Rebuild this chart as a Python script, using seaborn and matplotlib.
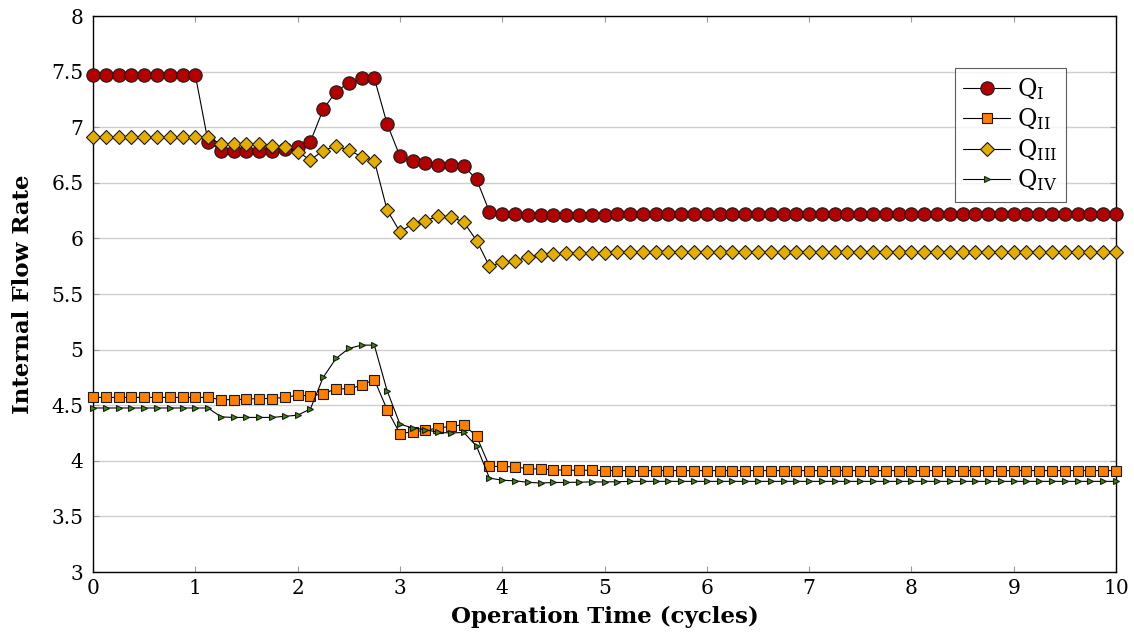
import numpy as np
import pandas as pd
import matplotlib
matplotlib.use("Agg")
import matplotlib.pyplot as plt
import seaborn as sns

# Sampling times: 8 samples per cycle over 10 cycles
time_cycles = np.arange(81) / 8.0

q_1 = [7.47, 7.47, 7.47, 7.47, 7.47, 7.47, 7.47, 7.47, 7.47, 6.87,
       6.79, 6.79, 6.79, 6.79, 6.79, 6.80, 6.82, 6.87, 7.16, 7.32,
       7.40, 7.44, 7.44, 7.03, 6.74, 6.70, 6.68, 6.66, 6.66, 6.65,
       6.53, 6.24, 6.22, 6.22, 6.21, 6.21, 6.21, 6.21, 6.21, 6.21,
       6.21, 6.22, 6.22, 6.22, 6.22, 6.22, 6.22, 6.22, 6.22, 6.22,
       6.22, 6.22, 6.22, 6.22, 6.22, 6.22, 6.22, 6.22, 6.22, 6.22,
       6.22, 6.22, 6.22, 6.22, 6.22, 6.22, 6.22, 6.22, 6.22, 6.22,
       6.22, 6.22, 6.22, 6.22, 6.22, 6.22, 6.22, 6.22, 6.22, 6.22,
       6.22]

q_2 = [4.57, 4.57, 4.57, 4.57, 4.57, 4.57, 4.57, 4.57, 4.57, 4.57,
       4.55, 4.55, 4.555, 4.56, 4.56, 4.57, 4.59, 4.585, 4.60, 4.65,
       4.645, 4.68, 4.73, 4.46, 4.245, 4.26, 4.275, 4.295, 4.31, 4.325,
       4.22, 3.95, 3.95, 3.944, 3.93, 3.925, 3.92, 3.915, 3.915, 3.915,
       3.912, 3.912, 3.912, 3.912, 3.912, 3.912, 3.912, 3.912, 3.912, 3.912,
       3.912, 3.912, 3.912, 3.912, 3.912, 3.912, 3.912, 3.912, 3.912, 3.912,
       3.912, 3.912, 3.912, 3.912, 3.912, 3.912, 3.912, 3.912, 3.912, 3.912,
       3.912, 3.912, 3.912, 3.912, 3.912, 3.912, 3.912, 3.912, 3.912, 3.912,
       3.912]

q_3 = [6.91, 6.91, 6.91, 6.91, 6.91, 6.91, 6.91, 6.91, 6.91, 6.91,
       6.85, 6.85, 6.845, 6.845, 6.83, 6.82, 6.78, 6.705, 6.79, 6.83,
       6.795, 6.735, 6.70, 6.255, 6.06, 6.13, 6.16, 6.20, 6.195, 6.145,
       5.98, 5.75, 5.785, 5.795, 5.835, 5.85, 5.86, 5.865, 5.87, 5.87,
       5.87, 5.875, 5.875, 5.875, 5.88, 5.88, 5.88, 5.88, 5.88, 5.88,
       5.88, 5.88, 5.88, 5.88, 5.88, 5.88, 5.88, 5.88, 5.88, 5.88,
       5.88, 5.88, 5.88, 5.88, 5.88, 5.88, 5.88, 5.88, 5.88, 5.88,
       5.88, 5.88, 5.88, 5.88, 5.88, 5.88, 5.88, 5.88, 5.88, 5.88,
       5.88]

q_4 = [4.475, 4.475, 4.475, 4.475, 4.475, 4.475, 4.475, 4.475, 4.475, 4.475,
       4.395, 4.39, 4.39, 4.39, 4.39, 4.40, 4.41, 4.466, 4.75, 4.92,
       5.01, 5.04, 5.04, 4.63, 4.33, 4.295, 4.28, 4.256, 4.25, 4.255,
       4.13, 3.845, 3.825, 3.82, 3.807, 3.80, 3.805, 3.805, 3.808, 3.81,
       3.81, 3.812, 3.815, 3.815, 3.815, 3.815, 3.815, 3.815, 3.815, 3.815,
       3.815, 3.815, 3.815, 3.815, 3.815, 3.815, 3.815, 3.815, 3.815, 3.815,
       3.815, 3.815, 3.815, 3.815, 3.815, 3.815, 3.815, 3.815, 3.815, 3.815,
       3.815, 3.815, 3.815, 3.815, 3.815, 3.815, 3.815, 3.815, 3.815, 3.815,
       3.815]

series_labels = [r"$\mathrm{Q}_{\mathrm{I}}$", r"$\mathrm{Q}_{\mathrm{II}}$",
                 r"$\mathrm{Q}_{\mathrm{III}}$", r"$\mathrm{Q}_{\mathrm{IV}}$"]
x_ticks = [0, 1, 2, 3, 4, 5, 6, 7, 8, 9, 10]
y_ticks = [3, 3.5, 4, 4.5, 5, 5.5, 6, 6.5, 7, 7.5, 8]
y_tick_labels = ["3", "3.5", "4", "4.5", "5", "5.5", "6", "6.5", "7", "7.5", "8"]

sns.set_theme(style="white")
plt.rcParams["font.family"] = ["DejaVu Serif"]
plt.rcParams["mathtext.fontset"] = "dejavuserif"
plt.rcParams["text.color"] = "black"
plt.rcParams["axes.labelcolor"] = "black"
plt.rcParams["xtick.color"] = "black"
plt.rcParams["ytick.color"] = "black"

df = pd.DataFrame({"t": time_cycles, "q1": q_1, "q2": q_2, "q3": q_3, "q4": q_4})

fig = plt.figure(figsize=(11.34, 6.44), dpi=100)
ax = fig.add_axes([93 / 1134, 72 / 644, 1023 / 1134, 556 / 644])

styles = [
    ("q1", "o", 9.6, "#b30000"),
    ("q2", "s", 6.6, "#ff7f00"),
    ("q3", "D", 7.0, "#e5ad00"),
    ("q4", ">", 4.6, "#3a8c00"),
]
for (col, mk, ms, fc), lab in zip(styles, series_labels):
    sns.lineplot(data=df, x="t", y=col, ax=ax, color="black", linewidth=0.8,
                 marker=mk, markersize=ms, markerfacecolor=fc,
                 markeredgecolor="#1a1a1a", markeredgewidth=0.8,
                 label=lab, zorder=3, clip_on=False)

ax.set_xlim(0, 10)
ax.set_ylim(3, 8)
ax.set_xticks(x_ticks)
ax.set_xticklabels([str(v) for v in x_ticks])
ax.set_yticks(y_ticks)
ax.set_yticklabels(y_tick_labels)
ax.yaxis.grid(True, color="#cfcfcf", linewidth=1.0)
ax.xaxis.grid(False)
ax.set_axisbelow(True)

for sp in ax.spines.values():
    sp.set_color("black")
    sp.set_linewidth(1.0)
    sp.set_visible(True)

ax.tick_params(axis="both", which="major", direction="in", length=4.5,
               width=0.8, color="#9a9a9a", labelsize=14.5, labelcolor="black",
               top=True, right=True, bottom=True, left=True)
ax.tick_params(axis="y", pad=7)
ax.tick_params(axis="x", pad=5)

ax.set_xlabel("Operation Time (cycles)", fontsize=16.5, fontweight="bold", labelpad=6)
ax.set_ylabel("Internal Flow Rate", fontsize=16.5, fontweight="bold", labelpad=12)

leg = ax.legend(loc="upper right", bbox_to_anchor=(0.951, 0.907), fontsize=17,
                frameon=True, fancybox=False, edgecolor="#333333",
                handlelength=2.0, handletextpad=0.3, borderpad=0.35,
                labelspacing=0.2, borderaxespad=0)
leg.get_frame().set_linewidth(0.8)

fig.savefig("out.png", dpi=100)
